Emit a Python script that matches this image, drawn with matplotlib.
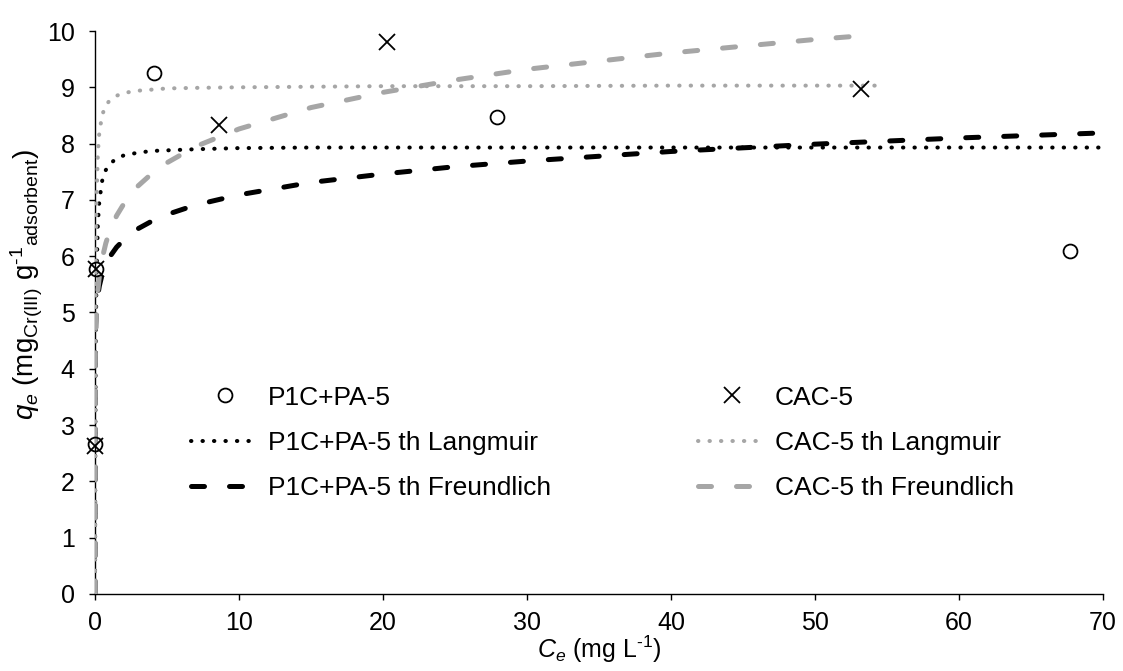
import matplotlib
matplotlib.use("Agg")
import matplotlib.pyplot as plt

plt.rcParams['font.family'] = ['Liberation Sans', 'DejaVu Sans']
plt.rcParams['mathtext.fontset'] = 'custom'
plt.rcParams['mathtext.rm'] = 'Liberation Sans'
plt.rcParams['mathtext.it'] = 'Liberation Sans:italic'
plt.rcParams['mathtext.bf'] = 'Liberation Sans:bold'

# Experimental data
p1c_ce = [0.03, 0.10, 4.12, 27.9, 67.7]
p1c_qe = [2.66, 5.78, 9.25, 8.47, 6.10]
cac_ce = [0.03, 0.10, 8.63, 20.3, 53.2]
cac_qe = [2.63, 5.78, 8.33, 9.81, 8.97]

# Theoretical curves
p1c_curve_ce = [0, 0.02, 0.05, 0.1, 0.2, 0.3, 0.5, 0.75, 1, 1.5, 2, 3, 4, 5, 7, 10,
                15, 20, 25, 30, 40, 50, 60, 70]
p1c_lang_qe = [0, 2.58, 4.34, 5.61, 6.58, 6.98, 7.34, 7.53, 7.63, 7.74, 7.79, 7.84,
               7.87, 7.88, 7.90, 7.92, 7.93, 7.93, 7.93, 7.93, 7.93, 7.93, 7.93, 7.93]
p1c_freu_qe = [0, 4.48, 4.79, 5.04, 5.31, 5.47, 5.68, 5.85, 5.98, 6.16, 6.29, 6.49,
               6.63, 6.74, 6.91, 7.09, 7.31, 7.46, 7.59, 7.69, 7.86, 7.99, 8.10, 8.19]

cac_lang_ce = [0, 0.01, 0.02, 0.05, 0.1, 0.2, 0.3, 0.5, 0.75, 1, 1.5, 2, 3, 4, 5, 7,
               10, 15, 20, 30, 40, 54.7]
cac_lang_qe = [0, 2.24, 3.59, 5.62, 6.93, 7.84, 8.20, 8.51, 8.68, 8.76, 8.85, 8.90,
               8.94, 8.96, 8.98, 8.99, 9.00, 9.01, 9.02, 9.02, 9.03, 9.03]
cac_freu_ce = [0, 0.02, 0.05, 0.1, 0.2, 0.3, 0.5, 0.75, 1, 1.5, 2, 3, 4, 5, 7, 10,
               15, 20, 25, 30, 40, 50, 54]
cac_freu_qe = [0, 4.20, 4.64, 5.00, 5.40, 5.64, 5.96, 6.23, 6.43, 6.72, 6.93, 7.25,
               7.48, 7.66, 7.95, 8.26, 8.64, 8.91, 9.13, 9.32, 9.61, 9.85, 9.93]

x_ticks = [0, 10, 20, 30, 40, 50, 60, 70]
y_ticks = [0, 1, 2, 3, 4, 5, 6, 7, 8, 9, 10]

GRAY = '#A6A6A6'
FS = 18
LFS = 19

fig = plt.figure(figsize=(11.23, 6.71), dpi=100)
ax = fig.add_axes([0.0846, 0.1148, 0.8976, 0.839])

dot = (0, (0.1, 2.75))
dash = (0, (2.6, 5.0))

h_p1c, = ax.plot(p1c_ce, p1c_qe, linestyle='none', marker='o', markersize=10,
                 markerfacecolor='none', markeredgecolor='black', markeredgewidth=1.3,
                 zorder=5, clip_on=False, label='P1C+PA-5')
h_cac, = ax.plot(cac_ce, cac_qe, linestyle='none', marker='x', markersize=11,
                 color='black', markeredgewidth=1.3, zorder=5, clip_on=False,
                 label='CAC-5')
h_p1c_l, = ax.plot(p1c_curve_ce, p1c_lang_qe, color='black', lw=2.9, linestyle=dot,
                   dash_capstyle='round', label='P1C+PA-5 th Langmuir', zorder=3.0)
h_cac_l, = ax.plot(cac_lang_ce, cac_lang_qe, color=GRAY, lw=2.9, linestyle=dot,
                   dash_capstyle='round', label='CAC-5 th Langmuir', zorder=3.1)
h_p1c_f, = ax.plot(p1c_curve_ce, p1c_freu_qe, color='black', lw=3.6, linestyle=dash,
                   dash_capstyle='round', label='P1C+PA-5 th Freundlich', zorder=3.2)
h_cac_f, = ax.plot(cac_freu_ce, cac_freu_qe, color=GRAY, lw=3.6, linestyle=dash,
                   dash_capstyle='round', label='CAC-5 th Freundlich', zorder=3.3)

ax.set_xlim(0, 70)
ax.set_ylim(0, 10)
ax.set_xticks(x_ticks)
ax.set_yticks(y_ticks)
ax.tick_params(axis='both', direction='out', length=4.5, width=1, labelsize=FS,
               colors='black')
ax.tick_params(axis='y', pad=10)
ax.tick_params(axis='x', pad=8)
for s in ['top', 'right']:
    ax.spines[s].set_visible(False)
for s in ['left', 'bottom']:
    ax.spines[s].set_linewidth(1.0)
    ax.spines[s].set_color('black')

ax.set_xlabel(r'$C_e$ (mg L$^{\text{-1}}$)', fontsize=FS, labelpad=-1.5)
ax.set_ylabel(r'$q_e$ (mg$_{\mathrm{Cr(III)}}$ g$^{\text{-1}}$$_{\mathrm{adsorbent}}$)',
              fontsize=20)
ax.yaxis.set_label_coords(-0.05, 0.55)

common = dict(loc='upper left', frameon=False, fontsize=LFS, handlelength=2.58,
              handletextpad=0.34, labelspacing=0.81, borderpad=0, borderaxespad=0)
leg1 = ax.legend(handles=[h_p1c, h_p1c_l, h_p1c_f], bbox_to_anchor=(0.0952, 0.370),
                 **common)
ax.add_artist(leg1)
leg2 = ax.legend(handles=[h_cac, h_cac_l, h_cac_f], bbox_to_anchor=(0.598, 0.370),
                 **common)

fig.savefig('out.png', dpi=100)
